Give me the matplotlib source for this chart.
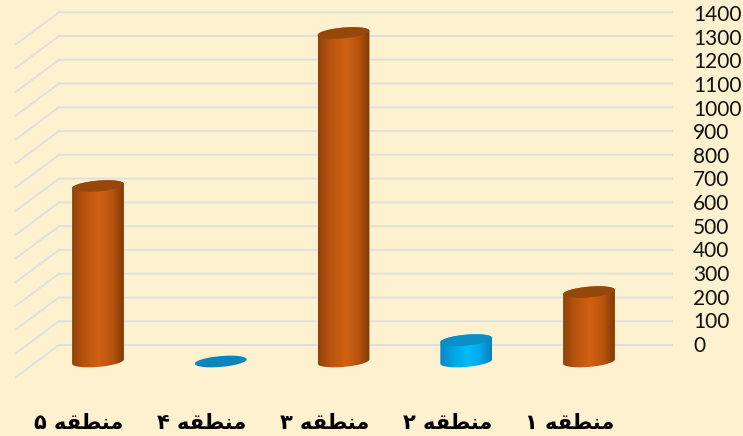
import numpy as np
import matplotlib
matplotlib.use('Agg')
import matplotlib.pyplot as plt
from matplotlib.colors import LinearSegmentedColormap
from matplotlib.patches import Polygon

# Values
categories = ['منطقه ۱', 'منطقه ۲', 'منطقه ۳', 'منطقه ۴', 'منطقه ۵']
values = [292, 90, 1382, 0, 738]
ticks = list(range(0, 1500, 100))

BG = '#fdf1d0'
GRID = '#e0e0dc'

# one pixel in data units (figure is 743x436 and axes fill it)
PX_X = 1 / 122.75
PX_Y = 100 / 23.77

fig = plt.figure(figsize=(7.43, 4.36), dpi=100, facecolor=BG)
ax = fig.add_axes([0, 0, 1, 1])
ax.set_facecolor(BG)
ax.axis('off')

orange = LinearSegmentedColormap.from_list('o', [(0, '#8f4309'), (0.2, '#b4520d'), (0.52, '#d26112'), (0.8, '#b4520d'), (1, '#803b07')])
blue = LinearSegmentedColormap.from_list('b', [(0, '#0a86c4'), (0.25, '#03a5e4'), (0.55, '#00bcfb'), (0.8, '#03a5e4'), (1, '#0a80ba')])
grad = np.linspace(0, 1, 64).reshape(1, -1)


def shape_label(s):
    # matplotlib does no arabic shaping, so use presentation forms in visual order
    forms = {'م': '\ufee3', 'ن': '\ufee8', 'ط': '\ufec4', 'ق': '\ufed8', 'ه': '\ufeea'}
    word, num = s.split(' ')
    return num + ' ' + ''.join(forms[c] for c in reversed(word))


def ellipse(cx, cy, t):
    # tilted ellipse rising to the right on screen (x axis is inverted, hence the minus)
    a, b, tilt = 26, 5.4, np.radians(5)
    ex = a * np.cos(t)
    ey = b * np.sin(t)
    return (cx - (ex * np.cos(tilt) - ey * np.sin(tilt)) * PX_X,
            cy + (ex * np.sin(tilt) + ey * np.cos(tilt)) * PX_Y)


# gridlines: back wall and side wall
for v in ticks:
    ax.plot([(589 - 672) * PX_X, (589 - 59) * PX_X, (589 - 16) * PX_X],
            [v, v, v - 32 * PX_Y], color=GRID, lw=1.4, zorder=1, solid_joinstyle='miter')
    ax.text((589 - 693) * PX_X, v * 0.9945 - 4, str(v), fontfamily='Lato', fontsize=15,
            ha='left', va='center', color='#111111')

depth = 16.5 * PX_Y
pos = np.arange(len(values))
for i, v in zip(pos, values):
    cmap = orange if v > 200 else blue
    top_col = '#96480c' if v > 200 else ('#0a85bd' if v == 0 else '#0b8fc6')
    base = 0 - depth
    top = v - depth
    if v > 0:
        xb, yb = ellipse(i, base, np.linspace(np.pi, 2 * np.pi, 40))
        xt, yt = ellipse(i, top, np.linspace(0, np.pi, 40))
        outline = Polygon(np.column_stack([np.r_[xb, xt], np.r_[yb, yt]]), transform=ax.transData, fc='none', ec='none')
        ax.add_patch(outline)
        im = ax.imshow(grad, cmap=cmap, aspect='auto', zorder=3,
                       extent=[i + 26 * PX_X, i - 26 * PX_X, base - 10 * PX_Y, top + 10 * PX_Y])
        im.set_clip_path(outline)
    xe, ye = ellipse(i, top, np.linspace(0, 2 * np.pi, 80))
    ax.fill(xe, ye, color=top_col, zorder=4, lw=0)
    ax.text(i + 19 * PX_X, -77.5 * PX_Y, shape_label(categories[i]), fontfamily='DejaVu Sans',
            fontweight='bold', fontsize=15, ha='center', va='center', color='#000000')

# x: index 0 sits at 589 px, axis runs right to left
ax.set_xlim(589 * PX_X, (589 - 743) * PX_X)
ax.set_ylim(-91 * PX_Y, 345 * PX_Y)

fig.savefig('out.png', dpi=100, facecolor=BG)
